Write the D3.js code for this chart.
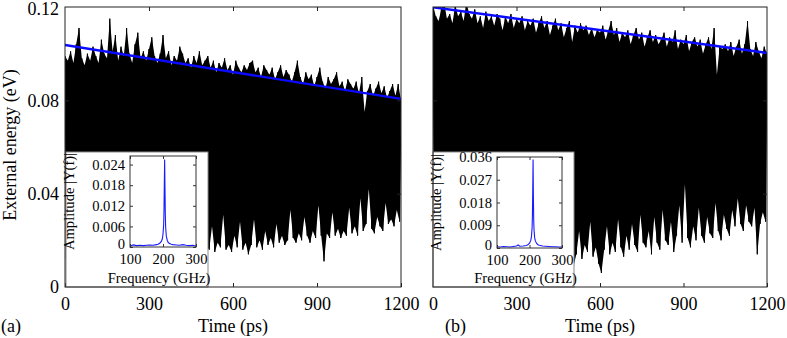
<!DOCTYPE html>
<html><head><meta charset="utf-8">
<script src="https://cdn.jsdelivr.net/npm/d3@7"></script>
<style>
body{margin:0;background:#fff}
svg{display:block}
text{font-family:"Liberation Serif","Times New Roman",serif;fill:#000}
</style>
</head><body>
<svg id="chart" width="787" height="338"></svg>
<script>
// ---------------- data ----------------
const timeTicks = [0, 300, 600, 900, 1200];
const energyTicks = [0, 0.04, 0.08, 0.12];
const energyTickLabels = ["0", "0.04", "0.08", "0.12"];

// local maxima of the oscillation, every 10 ps from 0 to 1200 ps (panel a)
const peaksA = [
 0.099,0.097,0.101,0.096,0.104,0.111,0.098,0.095,0.100,0.097,
 0.103,0.099,0.096,0.106,0.100,0.098,0.115,0.101,0.108,0.097,
 0.103,0.099,0.111,0.100,0.096,0.104,0.109,0.098,0.101,0.097,
 0.102,0.107,0.099,0.096,0.100,0.108,0.098,0.101,0.095,0.099,
 0.097,0.103,0.100,0.096,0.098,0.094,0.099,0.096,0.101,0.095,
 0.097,0.099,0.094,0.097,0.092,0.096,0.094,0.098,0.093,0.095,
 0.091,0.097,0.094,0.092,0.095,0.093,0.096,0.097,0.092,0.094,
 0.090,0.095,0.093,0.091,0.094,0.089,0.092,0.095,0.090,0.093,
 0.091,0.088,0.092,0.097,0.090,0.087,0.092,0.089,0.091,0.086,
 0.090,0.094,0.088,0.085,0.090,0.087,0.089,0.092,0.086,0.088,
 0.084,0.089,0.087,0.085,0.088,0.083,0.090,0.075,0.084,0.087,
 0.082,0.085,0.088,0.083,0.086,0.081,0.084,0.087,0.082,0.087,
 0.080];
// local minima, every 10 ps from 5 to 1195 ps (panel a)
const troughsA = [
 0.012,0.009,0.014,0.011,0.008,0.013,0.010,0.015,0.012,0.009,
 0.013,0.011,0.016,0.010,0.012,0.014,0.009,0.013,0.011,0.015,
 0.012,0.010,0.014,0.013,0.011,0.016,0.012,0.014,0.010,0.013,
 0.015,0.012,0.017,0.011,0.014,0.013,0.016,0.012,0.015,0.014,
 0.011,0.016,0.013,0.015,0.012,0.017,0.014,0.016,0.013,0.015,
 0.018,0.016,0.026,0.015,0.019,0.017,0.031,0.016,0.018,0.015,
 0.022,0.017,0.028,0.016,0.019,0.014,0.018,0.029,0.017,0.020,
 0.016,0.024,0.018,0.021,0.017,0.027,0.019,0.022,0.018,0.020,
 0.033,0.021,0.019,0.023,0.020,0.030,0.022,0.019,0.024,0.021,
 0.035,0.022,0.011,0.023,0.021,0.032,0.022,0.025,0.021,0.024,
 0.022,0.034,0.023,0.026,0.022,0.038,0.024,0.027,0.042,0.025,
 0.023,0.030,0.026,0.024,0.036,0.027,0.029,0.026,0.033,0.028];

// panel b
const peaksB = [
 0.121,0.116,0.114,0.119,0.122,0.115,0.117,0.113,0.121,0.116,
 0.118,0.114,0.122,0.117,0.115,0.119,0.113,0.116,0.111,0.118,
 0.114,0.116,0.112,0.117,0.115,0.110,0.116,0.113,0.117,0.111,
 0.115,0.113,0.116,0.110,0.114,0.112,0.115,0.109,0.113,0.116,
 0.111,0.114,0.108,0.112,0.115,0.110,0.113,0.107,0.111,0.114,
 0.105,0.112,0.109,0.113,0.110,0.112,0.108,0.111,0.107,0.110,
 0.109,0.112,0.106,0.110,0.114,0.108,0.111,0.105,0.109,0.107,
 0.110,0.104,0.108,0.111,0.106,0.109,0.103,0.107,0.110,0.105,
 0.108,0.104,0.106,0.109,0.103,0.107,0.105,0.110,0.102,0.106,
 0.104,0.108,0.101,0.105,0.107,0.103,0.106,0.100,0.104,0.107,
 0.102,0.111,0.091,0.103,0.102,0.104,0.101,0.105,0.099,0.103,
 0.106,0.100,0.104,0.114,0.102,0.099,0.105,0.101,0.098,0.103,
 0.100];
const troughsB = [
 0.013,0.010,0.015,0.011,0.014,0.009,0.012,0.016,0.011,0.013,
 0.010,0.014,0.012,0.015,0.009,0.013,0.011,0.016,0.012,0.014,
 0.011,0.015,0.010,0.013,0.016,0.012,0.014,0.009,0.013,0.015,
 0.012,0.010,0.014,0.011,0.016,0.013,0.009,0.015,0.012,0.014,
 0.016,0.011,0.013,0.010,0.015,0.012,0.014,0.011,0.017,0.013,
 0.009,0.014,0.024,0.012,0.018,0.015,0.028,0.013,0.017,0.010,
 0.006,0.016,0.026,0.014,0.019,0.015,0.029,0.017,0.013,0.022,
 0.016,0.027,0.018,0.015,0.031,0.019,0.017,0.024,0.014,0.030,
 0.019,0.016,0.033,0.020,0.018,0.028,0.015,0.022,0.035,0.019,
 0.044,0.021,0.017,0.026,0.020,0.034,0.022,0.019,0.030,0.023,
 0.021,0.036,0.024,0.020,0.031,0.025,0.022,0.033,0.026,0.038,
 0.027,0.024,0.035,0.028,0.026,0.034,0.014,0.027,0.032,0.028];

// blue fitted trend lines
const trendTime = [0, 1200];
const trendA = [0.1037, 0.0806];
const trendB = [0.1199, 0.1003];

// inset spectra
const freqTicks = [100, 200, 300];
const freqA = [100,110,120,130,140,150,160,170,180,185,190,195,198,200,202,203,204,205,206,207,208,210,213,216,220,225,230,240,250,260,270,280,290,300];
const ampA  = [0.0003,0.0006,0.0004,0.0005,0.0004,0.0005,0.0006,0.0005,0.0007,0.0008,0.0011,0.0016,0.0024,0.0037,0.0065,0.0105,0.0185,0.0255,0.0170,0.0095,0.0058,0.0032,0.0019,0.0013,0.0010,0.0008,0.0007,0.0006,0.0005,0.0007,0.0005,0.0004,0.0005,0.0003];
const ampTicksA = [0, 0.006, 0.012, 0.018, 0.024];
const ampTickLabelsA = ["0", "0.006", "0.012", "0.018", "0.024"];
const freqB = [100,110,120,130,140,150,160,165,170,180,190,195,200,204,206,208,209,210,211,212,213,214,216,218,222,226,230,240,250,260,270,280,290,300];
const ampB  = [0.0005,0.0004,0.0006,0.0005,0.0004,0.0006,0.0008,0.0012,0.0007,0.0008,0.0010,0.0013,0.0019,0.0030,0.0045,0.0080,0.0130,0.0230,0.0350,0.0200,0.0110,0.0070,0.0040,0.0028,0.0018,0.0013,0.0011,0.0008,0.0007,0.0006,0.0005,0.0005,0.0004,0.0004];
const ampTicksB = [0, 0.009, 0.018, 0.027, 0.036];
const ampTickLabelsB = ["0", "0.009", "0.018", "0.027", "0.036"];

// ---------------- drawing ----------------
const svg = d3.select("#chart");
const MAIN_FS = 18, INSET_FS = 14.6;
const SERIF = '"Liberation Serif","Times New Roman",serif';

const panels = [
  {id:"a", x0:65, x1:401, y0:7, y1:287, peaks:peaksA, troughs:troughsA, trend:trendA, tag:"(a)", tagX:1, showY:true,
   inset:{bx0:66, by0:152, bx1:208, by1:287, px0:130, px1:196, py0:156, py1:247, ymax:0.0265,
          freq:freqA, amp:ampA, ticks:ampTicksA, labels:ampTickLabelsA}},
  {id:"b", x0:433, x1:767, y0:7, y1:287, peaks:peaksB, troughs:troughsB, trend:trendB, tag:"(b)", tagX:445, showY:false,
   inset:{bx0:433, by0:152, bx1:574, by1:287, px0:497, px1:562, py0:157, py1:248, ymax:0.036,
          freq:freqB, amp:ampB, ticks:ampTicksB, labels:ampTickLabelsB}}
];

const peakTimes = d3.range(0, 1201, 10);
const troughTimes = d3.range(5, 1200, 10);

panels.forEach(p => {
  const x = d3.scaleLinear().domain([0, 1200]).range([p.x0, p.x1]);
  const y = d3.scaleLinear().domain([0, 0.12]).range([p.y1, p.y0]);
  const g = svg.append("g");

  g.append("clipPath").attr("id", "clip" + p.id)
    .append("rect").attr("x", p.x0).attr("y", p.y0).attr("width", p.x1 - p.x0).attr("height", p.y1 - p.y0);

  // oscillating signal: solid body between the maxima and minima, plus the zig-zag trace
  const top = p.peaks.map((v, i) => [x(peakTimes[i]), y(v)]);
  const bottom = p.troughs.map((v, i) => [x(troughTimes[i]), y(v)]).reverse();
  g.append("path")
    .attr("clip-path", `url(#clip${p.id})`)
    .attr("d", "M" + top.concat(bottom).map(d => d.join(",")).join("L") + "Z")
    .attr("fill", "#000").attr("stroke", "none");
  const pts = [];
  p.peaks.forEach((v, i) => {
    pts.push([peakTimes[i], v]);
    if (i < p.troughs.length) pts.push([troughTimes[i], p.troughs[i]]);
  });
  g.append("path")
    .attr("clip-path", `url(#clip${p.id})`)
    .attr("d", d3.line().x(d => x(d[0])).y(d => y(d[1]))(pts))
    .attr("fill", "none").attr("stroke", "#000").attr("stroke-width", 1);

  // trend line
  g.append("path")
    .attr("clip-path", `url(#clip${p.id})`)
    .attr("d", d3.line().x((d, i) => x(trendTime[i])).y(d => y(d))(p.trend))
    .attr("fill", "none").attr("stroke", "#0a0aff").attr("stroke-width", 2.4);

  // main axes (inward ticks on all sides)
  const T = 4;
  g.append("g").attr("transform", `translate(0,${p.y1})`)
    .call(d3.axisBottom(x).tickValues(timeTicks).tickSizeInner(-T).tickSizeOuter(0).tickPadding(10).tickFormat(d3.format("d")))
    .call(a => a.select(".domain").remove())
    .call(a => a.selectAll("text").style("font-size", MAIN_FS + "px").style("font-family", SERIF));
  g.append("g").attr("transform", `translate(0,${p.y0})`)
    .call(d3.axisTop(x).tickValues(timeTicks.slice(1, -1)).tickSizeInner(-T).tickSizeOuter(0).tickFormat(""))
    .call(a => a.select(".domain").remove());
  g.append("g").attr("transform", `translate(${p.x0},0)`)
    .call(d3.axisLeft(y).tickValues(energyTicks).tickSizeInner(-T).tickSizeOuter(0).tickPadding(6)
      .tickFormat((d, i) => p.showY ? energyTickLabels[i] : ""))
    .call(a => a.select(".domain").remove())
    .call(a => a.selectAll("line").filter(d => d === 0 || d === 0.12).remove())
    .call(a => a.selectAll("text").style("font-size", MAIN_FS + "px").style("font-family", SERIF))
    .call(a => a.selectAll("text").filter(d => d === 0.12).attr("dy", "0.42em"));
  g.append("g").attr("transform", `translate(${p.x1},0)`)
    .call(d3.axisRight(y).tickValues(energyTicks.slice(1, -1)).tickSizeInner(-T).tickSizeOuter(0).tickFormat(""))
    .call(a => a.select(".domain").remove());
  g.selectAll(".tick line").attr("stroke", "#222");

  // inset
  const s = p.inset;
  const ix = d3.scaleLinear().domain([100, 300]).range([s.px0, s.px1]);
  const iy = d3.scaleLinear().domain([0, s.ymax]).range([s.py1, s.py0]);
  const ig = g.append("g");
  ig.append("rect").attr("x", s.bx0).attr("y", s.by0).attr("width", s.bx1 - s.bx0).attr("height", s.by1 - s.by0)
    .attr("fill", "#fff").attr("stroke", "#8a8a8a").attr("stroke-width", 1);
  ig.append("clipPath").attr("id", "iclip" + p.id)
    .append("rect").attr("x", s.px0).attr("y", s.py0).attr("width", s.px1 - s.px0).attr("height", s.py1 - s.py0 + 1);
  ig.append("path")
    .attr("clip-path", `url(#iclip${p.id})`)
    .attr("d", d3.line().x((d, i) => ix(s.freq[i])).y(d => iy(d))(s.amp))
    .attr("fill", "none").attr("stroke", "#1a1aff").attr("stroke-width", 1.1);
  const t = 3;
  ig.append("g").attr("transform", `translate(0,${s.py1})`)
    .call(d3.axisBottom(ix).tickValues(freqTicks).tickSizeInner(-t).tickSizeOuter(0).tickPadding(7))
    .call(a => a.select(".domain").remove())
    .call(a => a.selectAll("text").style("font-size", INSET_FS + "px").style("font-family", SERIF));
  ig.append("g").attr("transform", `translate(0,${s.py0})`)
    .call(d3.axisTop(ix).tickValues(freqTicks).tickSizeInner(-t).tickSizeOuter(0).tickFormat(""))
    .call(a => a.select(".domain").remove());
  ig.append("g").attr("transform", `translate(${s.px0},0)`)
    .call(d3.axisLeft(iy).tickValues(s.ticks).tickSizeInner(-t).tickSizeOuter(0).tickPadding(5).tickFormat((d, i) => s.labels[i]))
    .call(a => a.select(".domain").remove())
    .call(a => a.selectAll("text").style("font-size", INSET_FS + "px").style("font-family", SERIF))
    .call(a => a.selectAll("text").filter(d => d === 0).attr("dy", "0.12em"));
  ig.append("g").attr("transform", `translate(${s.px1},0)`)
    .call(d3.axisRight(iy).tickValues(s.ticks).tickSizeInner(-t).tickSizeOuter(0).tickFormat(""))
    .call(a => a.select(".domain").remove());
  ig.selectAll(".tick line").attr("stroke", "#333");
  ig.append("rect").attr("x", s.px0).attr("y", s.py0).attr("width", s.px1 - s.px0).attr("height", s.py1 - s.py0)
    .attr("fill", "none").attr("stroke", "#333").attr("stroke-width", 1);
  ig.append("text").attr("x", (s.px0 + s.px1) / 2 - 4).attr("y", 283)
    .attr("text-anchor", "middle").style("font-size", INSET_FS + "px").text("Frequency (GHz)");
  ig.append("text").attr("transform", `translate(${s.bx0 + 8},${(s.py0 + s.py1) / 2}) rotate(-90)`)
    .attr("text-anchor", "middle").style("font-size", INSET_FS + "px").text("Amplitude |Y(f)|");

  // main frame
  g.append("rect").attr("x", p.x0).attr("y", p.y0).attr("width", p.x1 - p.x0).attr("height", p.y1 - p.y0)
    .attr("fill", "none").attr("stroke", "#222").attr("stroke-width", 1);

  // labels
  g.append("text").attr("x", (p.x0 + p.x1) / 2).attr("y", 332).attr("text-anchor", "middle")
    .style("font-size", MAIN_FS + "px").text("Time (ps)");
  g.append("text").attr("x", p.tagX).attr("y", 332).style("font-size", MAIN_FS + "px").text(p.tag);
});

svg.append("text").attr("transform", "translate(16,145) rotate(-90)").attr("text-anchor", "middle")
  .style("font-size", MAIN_FS + "px").text("External energy (eV)");
</script>
</body></html>
